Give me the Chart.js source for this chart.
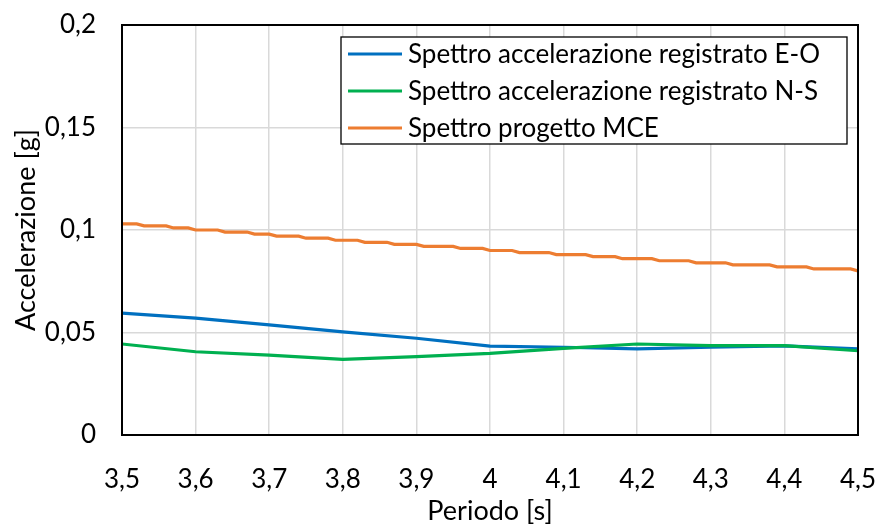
<!DOCTYPE html>
<html>
<head>
<meta charset="utf-8">
<script src="https://cdn.jsdelivr.net/npm/chart.js@4/dist/chart.umd.min.js"></script>
<style>
  body { margin: 0; background: #fff; }
  #wrap { width: 880px; height: 525px; }
</style>
</head>
<body>
<div id="wrap"><canvas id="myChart"></canvas></div>
<script>
// periodi delle registrazioni (passo 0,1 s)
const periods = [3.5, 3.6, 3.7, 3.8, 3.9, 4.0, 4.1, 4.2, 4.3, 4.4, 4.5];
const valuesEO = [0.0595, 0.057, 0.0537, 0.0503, 0.0472, 0.0434, 0.0428, 0.042, 0.0428, 0.0435, 0.042];
const valuesNS = [0.0444, 0.0406, 0.039, 0.0369, 0.0382, 0.0398, 0.0423, 0.0444, 0.0436, 0.0436, 0.0411];

// spettro di progetto (passo 0,01 s, valori a 3 decimali)
const periodsMCE = [
    3.50, 3.51, 3.52, 3.53, 3.54, 3.55, 3.56, 3.57, 3.58, 3.59,
    3.60, 3.61, 3.62, 3.63, 3.64, 3.65, 3.66, 3.67, 3.68, 3.69,
    3.70, 3.71, 3.72, 3.73, 3.74, 3.75, 3.76, 3.77, 3.78, 3.79,
    3.80, 3.81, 3.82, 3.83, 3.84, 3.85, 3.86, 3.87, 3.88, 3.89,
    3.90, 3.91, 3.92, 3.93, 3.94, 3.95, 3.96, 3.97, 3.98, 3.99,
    4.00, 4.01, 4.02, 4.03, 4.04, 4.05, 4.06, 4.07, 4.08, 4.09,
    4.10, 4.11, 4.12, 4.13, 4.14, 4.15, 4.16, 4.17, 4.18, 4.19,
    4.20, 4.21, 4.22, 4.23, 4.24, 4.25, 4.26, 4.27, 4.28, 4.29,
    4.30, 4.31, 4.32, 4.33, 4.34, 4.35, 4.36, 4.37, 4.38, 4.39,
    4.40, 4.41, 4.42, 4.43, 4.44, 4.45, 4.46, 4.47, 4.48, 4.49,
    4.50
];
const valuesMCE = [
    0.103, 0.103, 0.103, 0.102, 0.102, 0.102, 0.102, 0.101, 0.101, 0.101,
    0.100, 0.100, 0.100, 0.100, 0.099, 0.099, 0.099, 0.099, 0.098, 0.098,
    0.098, 0.097, 0.097, 0.097, 0.097, 0.096, 0.096, 0.096, 0.096, 0.095,
    0.095, 0.095, 0.095, 0.094, 0.094, 0.094, 0.094, 0.093, 0.093, 0.093,
    0.093, 0.092, 0.092, 0.092, 0.092, 0.092, 0.091, 0.091, 0.091, 0.091,
    0.090, 0.090, 0.090, 0.090, 0.089, 0.089, 0.089, 0.089, 0.089, 0.088,
    0.088, 0.088, 0.088, 0.088, 0.087, 0.087, 0.087, 0.087, 0.086, 0.086,
    0.086, 0.086, 0.086, 0.085, 0.085, 0.085, 0.085, 0.085, 0.084, 0.084,
    0.084, 0.084, 0.084, 0.083, 0.083, 0.083, 0.083, 0.083, 0.083, 0.082,
    0.082, 0.082, 0.082, 0.082, 0.081, 0.081, 0.081, 0.081, 0.081, 0.081,
    0.080
];

const xTicks = [3.5, 3.6, 3.7, 3.8, 3.9, 4, 4.1, 4.2, 4.3, 4.4, 4.5];
const yTicks = [0, 0.05, 0.1, 0.15, 0.2];

const seriesLabels = [
    "Spettro accelerazione registrato E-O",
    "Spettro accelerazione registrato N-S",
    "Spettro progetto MCE"
];

function toPoints(xs, ys) {
    return xs.map((x, i) => ({ x: x, y: ys[i] }));
}

function comma(v) {
    return String(Math.round(v * 1000) / 1000).replace(".", ",");
}

Chart.defaults.font.family = "Lato";
Chart.defaults.color = "#000";

// riquadro nero attorno all'area del grafico
const frame = {
    id: "frame",
    afterDatasetsDraw(chart) {
        const a = chart.chartArea, ctx = chart.ctx;
        ctx.save();
        ctx.strokeStyle = "#000";
        ctx.lineWidth = 2;
        ctx.strokeRect(a.left, a.top, a.right - a.left, a.bottom - a.top);
        ctx.restore();
    }
};

// legenda dentro il grafico, con bordo
const boxLegend = {
    id: "boxLegend",
    afterDraw(chart) {
        const ctx = chart.ctx;
        const x0 = 341, y0 = 37, w = 506, h = 107;
        ctx.save();
        ctx.fillStyle = "#fff";
        ctx.fillRect(x0, y0, w, h);
        ctx.strokeStyle = "#000";
        ctx.lineWidth = 1.3;
        ctx.strokeRect(x0, y0, w, h);
        ctx.font = "26px Lato";
        ctx.textBaseline = "middle";
        chart.data.datasets.forEach((ds, i) => {
            const y = 54 + i * 37;
            ctx.strokeStyle = ds.borderColor;
            ctx.lineWidth = 3;
            ctx.beginPath();
            ctx.moveTo(348, y);
            ctx.lineTo(402, y);
            ctx.stroke();
            ctx.fillStyle = "#000";
            ctx.fillText(ds.label, 408, y + 1);
        });
        ctx.restore();
    }
};

const data = {
    datasets: [{
        label: seriesLabels[0],
        data: toPoints(periods, valuesEO),
        borderColor: "#0070C0",
        borderWidth: 3.2,
        pointRadius: 0,
        order: 1
    }, {
        label: seriesLabels[1],
        data: toPoints(periods, valuesNS),
        borderColor: "#00B050",
        borderWidth: 3.2,
        pointRadius: 0,
        order: 0
    }, {
        label: seriesLabels[2],
        data: toPoints(periodsMCE, valuesMCE),
        borderColor: "#ED7D31",
        borderWidth: 3.2,
        pointRadius: 0,
        order: 2
    }]
};

const config = {
    type: "line",
    data: data,
    options: {
        responsive: true,
        maintainAspectRatio: false,
        animation: false,
        layout: { padding: { left: 0, top: 25, right: 22, bottom: 0 } },
        plugins: {
            legend: { display: false },
            tooltip: { enabled: false }
        },
        scales: {
            x: {
                type: "linear",
                min: 3.5,
                max: 4.5,
                afterBuildTicks: (s) => { s.ticks = xTicks.map(v => ({ value: v })); },
                afterFit: (s) => { s.height = 90; s.paddingLeft = 0; s.paddingRight = 0; },
                ticks: {
                    font: { size: 26 },
                    padding: 29,
                    maxRotation: 0,
                    autoSkip: false,
                    callback: (v) => comma(v)
                },
                grid: { color: "#d9d9d9", lineWidth: 1.5, drawTicks: false },
                border: { color: "#000", width: 2 },
                title: {
                    display: true,
                    text: "Periodo [s]",
                    font: { size: 27, lineHeight: 1.0 },
                    padding: { top: 0, bottom: 0 }
                }
            },
            y: {
                min: 0,
                max: 0.2,
                afterBuildTicks: (s) => { s.ticks = yTicks.map(v => ({ value: v })); },
                afterFit: (s) => { s.width = 122; s.paddingTop = 0; s.paddingBottom = 0; },
                ticks: {
                    font: { size: 26 },
                    padding: 26,
                    callback: (v) => comma(v)
                },
                grid: { color: "#d9d9d9", lineWidth: 1.5, drawTicks: false },
                border: { color: "#000", width: 2 },
                title: {
                    display: true,
                    text: "Accelerazione [g]",
                    font: { size: 27 },
                    padding: { top: 10, bottom: 0 }
                }
            }
        }
    },
    plugins: [frame, boxLegend]
};

myChart = new Chart(document.getElementById("myChart"), config);
</script>
</body>
</html>
